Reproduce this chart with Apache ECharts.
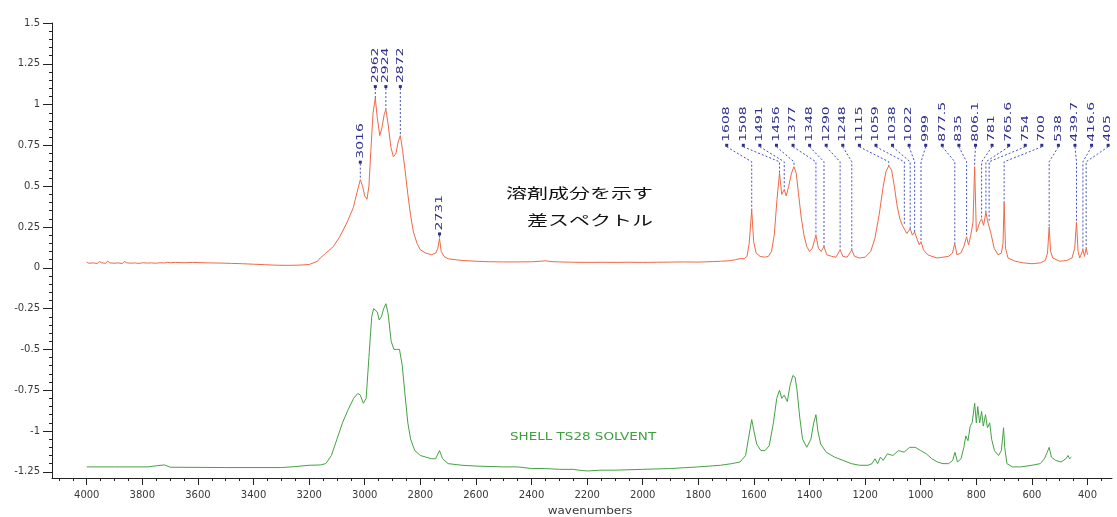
<!DOCTYPE html>
<html>
<head>
<meta charset="utf-8">
<title>差スペクトル</title>
<script src="https://cdn.jsdelivr.net/npm/echarts@6/dist/echarts.min.js"></script>
<style>
  html, body { margin: 0; padding: 0; background: #ffffff; }
  #chart { width: 1117px; height: 517px; }
</style>
</head>
<body>
<div id="chart"></div>
<script>
// Difference spectrum (solvent component), [wavenumber, absorbance]
const diffSpectrum = [
  [4000,0.034],[3992,0.028],[3985,0.04],[3977,0.03],[3970,0.037],[3962,0.026],[3955,0.039],[3947,0.031],
  [3940,0.036],[3932,0.027],[3925,0.041],[3917,0.03],[3910,0.035],[3902,0.028],[3895,0.038],[3887,0.03],
  [3880,0.036],[3872,0.026],[3865,0.039],[3857,0.031],[3850,0.035],[3842,0.028],[3835,0.037],[3827,0.03],
  [3820,0.034],[3812,0.027],[3805,0.038],[3797,0.031],[3790,0.035],[3782,0.029],[3775,0.037],[3767,0.03],
  [3760,0.034],[3752,0.028],[3745,0.036],[3737,0.031],[3730,0.035],[3720,0.03],[3710,0.034],[3700,0.031],
  [3680,0.033],[3650,0.031],[3620,0.033],[3600,0.032],[3560,0.03],[3520,0.029],[3480,0.027],[3440,0.025],
  [3400,0.022],[3360,0.019],[3320,0.016],[3280,0.015],[3240,0.016],[3200,0.02],[3170,0.04],[3160,0.06],
  [3140,0.09],[3113,0.13],[3090,0.19],[3063,0.28],[3041,0.37],[3028,0.46],[3016,0.54],[3008,0.5],
  [3000,0.44],[2992,0.42],[2985,0.5],[2978,0.72],[2970,0.95],[2962,1.04],[2955,0.92],[2946,0.81],
  [2938,0.86],[2930,0.94],[2924,0.97],[2916,0.88],[2906,0.74],[2897,0.68],[2888,0.7],[2880,0.77],
  [2872,0.81],[2864,0.72],[2855,0.6],[2845,0.45],[2835,0.32],[2825,0.22],[2812,0.15],[2800,0.11],
  [2780,0.09],[2760,0.08],[2745,0.09],[2737,0.12],[2731,0.18],[2725,0.1],[2715,0.07],[2700,0.055],
  [2650,0.045],[2600,0.04],[2550,0.037],[2500,0.036],[2450,0.036],[2400,0.037],[2370,0.04],[2350,0.043],
  [2330,0.038],[2300,0.036],[2250,0.034],[2200,0.033],[2150,0.034],[2100,0.033],[2050,0.034],[2000,0.033],
  [1950,0.034],[1900,0.035],[1850,0.036],[1800,0.035],[1750,0.038],[1720,0.04],[1690,0.043],[1665,0.05],
  [1645,0.058],[1635,0.055],[1625,0.07],[1617,0.15],[1608,0.355],[1601,0.16],[1592,0.09],[1578,0.07],
  [1562,0.065],[1548,0.07],[1537,0.1],[1527,0.2],[1517,0.42],[1508,0.58],[1500,0.45],[1491,0.48],
  [1484,0.44],[1475,0.5],[1465,0.58],[1456,0.62],[1448,0.58],[1440,0.46],[1430,0.31],[1420,0.2],
  [1410,0.13],[1400,0.1],[1390,0.12],[1377,0.2],[1368,0.12],[1358,0.1],[1348,0.13],[1338,0.08],
  [1320,0.07],[1305,0.065],[1290,0.11],[1280,0.07],[1265,0.065],[1248,0.11],[1238,0.07],[1220,0.06],
  [1200,0.065],[1180,0.1],[1165,0.18],[1150,0.32],[1135,0.5],[1125,0.59],[1115,0.625],[1105,0.6],
  [1095,0.5],[1085,0.38],[1075,0.3],[1066,0.26],[1059,0.27],[1050,0.21],[1038,0.24],[1030,0.2],
  [1022,0.22],[1012,0.17],[1005,0.14],[999,0.16],[990,0.11],[975,0.08],[960,0.07],[940,0.06],
  [920,0.065],[900,0.07],[886,0.09],[877.5,0.15],[870,0.08],[856,0.09],[845,0.13],[835,0.19],
  [828,0.14],[820,0.2],[812,0.28],[806.1,0.62],[800,0.22],[795,0.24],[788,0.28],[781,0.3],
  [774,0.26],[765.6,0.34],[760,0.29],[754,0.28],[746,0.2],[736,0.12],[722,0.08],[710,0.09],
  [704,0.15],[700,0.4],[695,0.12],[686,0.06],[660,0.04],[630,0.03],[600,0.025],[570,0.03],
  [552,0.045],[544,0.09],[538,0.25],[533,0.1],[525,0.06],[500,0.04],[475,0.045],[456,0.06],
  [446,0.12],[439.7,0.28],[434,0.1],[428,0.06],[422,0.07],[416.6,0.11],[411,0.07],[405,0.12],[400,0.08]
];

// Reference spectrum of SHELL TS28 SOLVENT, [wavenumber, absorbance]
const solventSpectrum = [
  [4000,-1.22],[3900,-1.22],[3780,-1.22],[3745,-1.212],[3720,-1.208],[3700,-1.222],[3500,-1.224],[3300,-1.224],
  [3250,-1.218],[3200,-1.21],[3160,-1.208],[3140,-1.2],[3120,-1.15],[3100,-1.05],[3080,-0.95],[3060,-0.87],
  [3040,-0.8],[3025,-0.77],[3016,-0.78],[3005,-0.83],[2995,-0.8],[2985,-0.55],[2975,-0.3],[2968,-0.25],
  [2962,-0.24],[2955,-0.27],[2948,-0.32],[2940,-0.3],[2932,-0.25],[2924,-0.22],[2916,-0.28],[2905,-0.45],
  [2895,-0.5],[2885,-0.5],[2875,-0.5],[2865,-0.6],[2855,-0.78],[2845,-0.95],[2835,-1.05],[2820,-1.12],
  [2800,-1.15],[2780,-1.16],[2760,-1.17],[2745,-1.17],[2731,-1.12],[2720,-1.17],[2700,-1.2],[2650,-1.21],
  [2600,-1.215],[2500,-1.22],[2450,-1.22],[2400,-1.23],[2350,-1.23],[2300,-1.235],[2250,-1.235],[2230,-1.24],
  [2200,-1.245],[2150,-1.24],[2100,-1.24],[2000,-1.235],[1900,-1.23],[1850,-1.225],[1800,-1.22],[1760,-1.215],
  [1720,-1.21],[1680,-1.2],[1650,-1.19],[1630,-1.15],[1620,-1.05],[1608,-0.93],[1600,-1.0],[1590,-1.08],
  [1575,-1.12],[1560,-1.12],[1545,-1.09],[1530,-0.95],[1518,-0.8],[1508,-0.75],[1500,-0.8],[1491,-0.78],
  [1480,-0.82],[1470,-0.72],[1460,-0.66],[1452,-0.67],[1445,-0.75],[1435,-0.92],[1425,-1.05],[1410,-1.1],
  [1395,-1.05],[1385,-0.95],[1377,-0.9],[1370,-1.0],[1360,-1.08],[1340,-1.13],[1310,-1.16],[1280,-1.18],
  [1250,-1.2],[1220,-1.21],[1190,-1.21],[1175,-1.2],[1165,-1.17],[1155,-1.2],[1145,-1.16],[1135,-1.18],
  [1120,-1.14],[1100,-1.15],[1080,-1.12],[1060,-1.13],[1040,-1.1],[1020,-1.1],[1000,-1.12],[980,-1.14],
  [960,-1.17],[940,-1.19],[920,-1.2],[900,-1.2],[885,-1.18],[877,-1.13],[868,-1.19],[855,-1.17],
  [845,-1.1],[838,-1.03],[830,-1.06],[822,-0.97],[815,-0.95],[806,-0.83],[800,-0.95],[795,-0.85],
  [788,-0.95],[781,-0.88],[775,-0.97],[767,-0.9],[760,-0.98],[752,-0.95],[745,-1.05],[735,-1.12],
  [720,-1.15],[710,-1.12],[702,-0.98],[698,-1.1],[690,-1.2],[670,-1.22],[640,-1.22],[600,-1.21],
  [570,-1.2],[555,-1.17],[545,-1.13],[538,-1.1],[530,-1.16],[515,-1.18],[495,-1.19],[478,-1.17],
  [470,-1.15],[465,-1.17],[458,-1.16]
];

// Annotated peaks of the difference spectrum
const peakWaves = [3016, 2962, 2924, 2872, 2731,
  1608, 1508, 1491, 1456, 1377, 1348, 1290, 1248, 1115, 1059, 1038, 1022, 999,
  877.5, 835, 806.1, 781, 765.6, 754, 700, 538, 439.7, 416.6, 405];
const peakLabels = ['3016', '2962', '2924', '2872', '2731',
  '1608', '1508', '1491', '1456', '1377', '1348', '1290', '1248', '1115', '1059', '1038', '1022', '999',
  '877.5', '835', '806.1', '781', '765.6', '754', '700', '538', '439.7', '416.6', '405'];
const peakGroups = [0, 1, 1, 1, 2,
  3, 3, 3, 3, 3, 3, 3, 3, 3, 3, 3, 3, 3,
  3, 3, 3, 3, 3, 3, 3, 3, 3, 3, 3];

// Axis ticks
const xTickValues = [4000, 3800, 3600, 3400, 3200, 3000, 2800, 2600, 2400, 2200,
  2000, 1800, 1600, 1400, 1200, 1000, 800, 600, 400];
const yTickValues = [1.5, 1.25, 1, 0.75, 0.5, 0.25, 0, -0.25, -0.5, -0.75, -1, -1.25];

// Texts
const noteLines = ['溶剤成分を示す', '差スペクトル'];
const solventName = 'SHELL TS28 SOLVENT';
const xAxisTitle = 'wavenumbers';

// Absorbance of a spectrum at a given wavenumber (linear between samples)
function valueAt(spec, w) {
  for (let i = 0; i < spec.length - 1; i++) {
    const a = spec[i], b = spec[i + 1];
    if (w <= a[0] && w >= b[0]) {
      const t = a[0] === b[0] ? 0 : (a[0] - w) / (a[0] - b[0]);
      return a[1] + (b[1] - a[1]) * t;
    }
  }
  return spec[spec.length - 1][1];
}
const peakValues = peakWaves.map(w => valueAt(diffSpectrum, w));

// Label placement per annotation group
const groupLayout = [
  { gap: 16, spread: false },
  { gap: 10, spread: false },
  { gap: 3, spread: false },
  { gap: 19, spread: true, padLeft: 25, padRight: 22, knee: 15 }
];

const xMin = 312, xMax = 4125, yMin = -1.288, yMax = 1.5;
const xMinor = [];
for (let v = 4100; v >= 350; v -= 50) if (v % 200 !== 0) xMinor.push(v);
const yMinor = [];
for (let k = -25; k <= 30; k++) if (k % 5 !== 0) yMinor.push(+(k * 0.05).toFixed(2));

const labelColor = '#2e2e8e';
const leaderColor = '#4350bd';

function renderPeak(params, api) {
  const i = params.dataIndex;
  const g = peakGroups[i];
  const lay = groupLayout[g];
  const members = [];
  peakGroups.forEach((gg, k) => { if (gg === g) members.push(k); });
  const pts = members.map(k => api.coord([peakWaves[k], peakValues[k]]));
  const topY = Math.min.apply(null, pts.map(p => p[1]));
  const foot = topY - lay.gap;
  const p = api.coord([peakWaves[i], peakValues[i]]);
  let lx = p[0];
  let linePts;
  if (lay.spread && members.length > 1) {
    const x0 = pts[0][0] - lay.padLeft;
    const x1 = pts[pts.length - 1][0] + lay.padRight;
    const j = members.indexOf(i);
    lx = x0 + (x1 - x0) * j / (members.length - 1);
    linePts = [[lx, foot], [p[0], foot + lay.knee], [p[0], p[1]]];
  } else {
    linePts = [[lx, foot], [p[0], p[1]]];
  }
  return {
    type: 'group',
    children: [
      {
        type: 'polyline',
        shape: { points: linePts },
        style: { stroke: leaderColor, lineWidth: 1, lineDash: [2, 2], fill: null }
      },
      {
        type: 'rect',
        shape: { x: lx - 1.5, y: foot - 3, width: 3, height: 3 },
        style: { fill: labelColor }
      },
      {
        type: 'text',
        x: lx,
        y: foot - 5,
        rotation: Math.PI / 2,
        scaleX: 1.55,
        style: {
          text: peakLabels[i],
          fill: labelColor,
          font: '9px "DejaVu Sans"',
          align: 'left',
          verticalAlign: 'middle'
        }
      }
    ]
  };
}

const chart = echarts.init(document.getElementById('chart'), null, { renderer: 'canvas' });

const axisColor = '#222';
const tickLabelStyle = {
  color: '#3a3a3a', fontSize: 10, fontFamily: 'DejaVu Sans',
  formatter: v => String(v)
};

chart.setOption({
  animation: false,
  backgroundColor: '#ffffff',
  textStyle: { fontFamily: 'DejaVu Sans' },
  grid: { left: 52, right: 5, top: 23, bottom: 39, outerBoundsMode: 'none' },
  xAxis: [
    {
      type: 'value', inverse: true, min: xMin, max: xMax, position: 'bottom',
      axisLine: { show: true, onZero: false, lineStyle: { color: axisColor, width: 1 } },
      axisTick: { show: true, inside: false, length: 7, customValues: xTickValues, lineStyle: { color: axisColor } },
      axisLabel: Object.assign({ customValues: xTickValues, margin: 12 }, tickLabelStyle),
      splitLine: { show: false }
    },
    {
      type: 'value', inverse: true, min: xMin, max: xMax, position: 'bottom',
      axisLine: { show: false, onZero: false },
      axisTick: { show: true, inside: false, length: 3, customValues: xMinor, lineStyle: { color: axisColor } },
      axisLabel: { show: false },
      splitLine: { show: false }
    }
  ],
  yAxis: [
    {
      type: 'value', min: yMin, max: yMax, position: 'left',
      axisLine: { show: true, onZero: false, lineStyle: { color: axisColor, width: 1 } },
      axisTick: { show: true, inside: false, length: 9, customValues: yTickValues, lineStyle: { color: axisColor } },
      axisLabel: Object.assign({ customValues: yTickValues, margin: 12 }, tickLabelStyle),
      splitLine: { show: false }
    },
    {
      type: 'value', min: yMin, max: yMax, position: 'left',
      axisLine: { show: false, onZero: false },
      axisTick: { show: true, inside: false, length: 3, customValues: yMinor, lineStyle: { color: axisColor } },
      axisLabel: { show: false },
      splitLine: { show: false }
    }
  ],
  series: [
    {
      name: '差スペクトル', type: 'line', data: diffSpectrum,
      xAxisIndex: 0, yAxisIndex: 0,
      showSymbol: false, symbol: 'none', smooth: false,
      lineStyle: { color: '#ee6a48', width: 1 }, z: 2
    },
    {
      name: solventName, type: 'line', data: solventSpectrum,
      xAxisIndex: 0, yAxisIndex: 0,
      showSymbol: false, symbol: 'none', smooth: false,
      lineStyle: { color: '#45a245', width: 1 }, z: 2
    },
    {
      name: 'peaks', type: 'custom', xAxisIndex: 0, yAxisIndex: 0,
      data: peakWaves.map((w, i) => [w, peakValues[i]]),
      renderItem: renderPeak, silent: true, z: 3
    }
  ],
  graphic: [
    {
      type: 'text', x: 653, y: 193, scaleX: 1.5, silent: true,
      style: { text: noteLines[0], font: '14px "Noto Sans CJK JP"', fill: '#111111', align: 'right', verticalAlign: 'middle' }
    },
    {
      type: 'text', x: 653, y: 220, scaleX: 1.5, silent: true,
      style: { text: noteLines[1], font: '14px "Noto Sans CJK JP"', fill: '#111111', align: 'right', verticalAlign: 'middle' }
    },
    {
      type: 'text', x: 510, y: 437, scaleX: 1.35, silent: true,
      style: { text: solventName, font: '10px "DejaVu Sans"', fill: '#3f9f3f', align: 'left', verticalAlign: 'middle' }
    },
    {
      type: 'text', x: 590, y: 511, scaleX: 1.2, silent: true,
      style: { text: xAxisTitle, font: '10px "DejaVu Sans"', fill: '#3a3a3a', align: 'center', verticalAlign: 'middle' }
    }
  ]
});
</script>
</body>
</html>
